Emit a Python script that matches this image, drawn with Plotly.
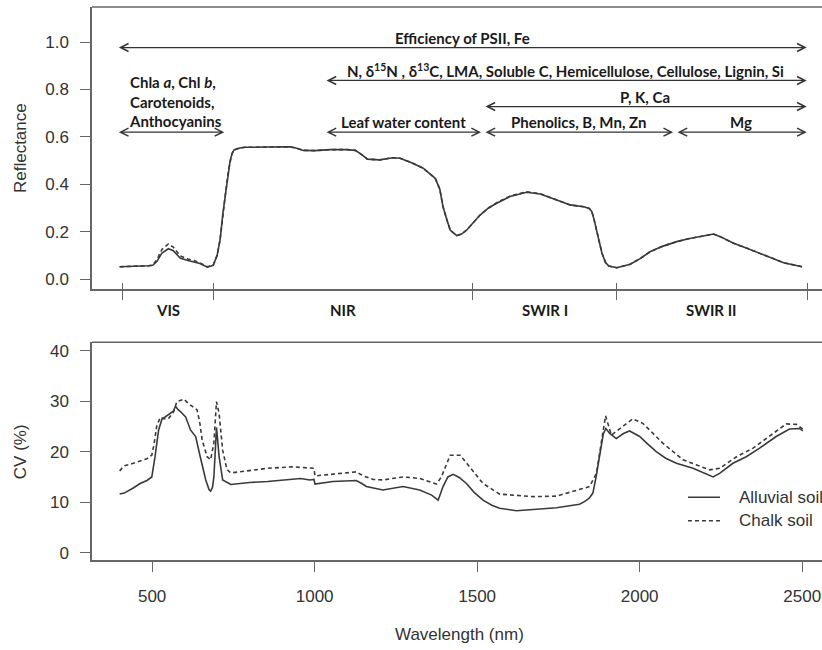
import plotly.graph_objects as go

# ---------------- Reflectance spectra (nm, reflectance) ----------------
refl_wl = [400, 450, 490, 502, 515, 530, 550, 565, 586, 610, 630, 647, 670, 688,
           700, 709, 718, 727, 735, 740, 746, 752, 770, 786, 850, 900, 925, 945,
           965, 1000, 1047, 1100, 1125, 1145, 1162, 1200, 1240, 1263, 1300, 1334,
           1371, 1385, 1395, 1408, 1417, 1437, 1452, 1468, 1490, 1509, 1535, 1560,
           1601, 1652, 1694, 1720, 1745, 1786, 1828, 1845, 1853, 1860, 1868, 1876,
           1884, 1895, 1905, 1930, 1971, 2000, 2032, 2070, 2114, 2150, 2186, 2227,
           2248, 2289, 2330, 2371, 2410, 2443, 2500]
refl_alluvial = [0.052, 0.053, 0.056, 0.058, 0.075, 0.110, 0.128, 0.120, 0.089, 0.078,
                 0.072, 0.066, 0.050, 0.058, 0.100, 0.165, 0.280, 0.376, 0.460, 0.500,
                 0.530, 0.545, 0.553, 0.556, 0.557, 0.557, 0.558, 0.552, 0.543, 0.542,
                 0.546, 0.546, 0.543, 0.525, 0.506, 0.503, 0.512, 0.510, 0.490, 0.468,
                 0.425, 0.380, 0.305, 0.245, 0.207, 0.183, 0.190, 0.207, 0.240, 0.270,
                 0.300, 0.320, 0.348, 0.366, 0.359, 0.347, 0.334, 0.313, 0.305, 0.298,
                 0.284, 0.250, 0.207, 0.155, 0.109, 0.070, 0.055, 0.048, 0.063, 0.085,
                 0.115, 0.138, 0.158, 0.170, 0.179, 0.190, 0.179, 0.151, 0.130, 0.109,
                 0.087, 0.069, 0.052]
refl_chalk = [0.052, 0.053, 0.056, 0.060, 0.082, 0.125, 0.148, 0.135, 0.098, 0.085,
              0.078, 0.068, 0.052, 0.058, 0.100, 0.165, 0.280, 0.376, 0.460, 0.500,
              0.530, 0.545, 0.553, 0.556, 0.557, 0.557, 0.558, 0.552, 0.543, 0.542,
              0.546, 0.546, 0.543, 0.525, 0.506, 0.503, 0.512, 0.510, 0.490, 0.468,
              0.425, 0.380, 0.305, 0.245, 0.207, 0.183, 0.190, 0.207, 0.240, 0.270,
              0.300, 0.322, 0.350, 0.368, 0.360, 0.348, 0.334, 0.313, 0.305, 0.298,
              0.284, 0.250, 0.207, 0.155, 0.109, 0.070, 0.055, 0.048, 0.063, 0.085,
              0.115, 0.138, 0.158, 0.170, 0.179, 0.190, 0.179, 0.151, 0.130, 0.109,
              0.087, 0.069, 0.052]

# ---------------- Coefficient of variation (nm, %) ----------------
cv_alluvial_wl = [400, 414, 442, 463, 484, 499, 509, 520, 530, 551, 565, 572, 580, 588,
                  603, 618, 634, 648, 665, 675, 680, 686, 690, 695, 698, 702, 706, 717,
                  742, 800, 855, 957, 985, 998, 1001, 1056, 1128, 1145, 1159, 1210, 1272,
                  1323, 1360, 1380, 1395, 1410, 1426, 1445, 1467, 1490, 1518, 1545, 1569,
                  1621, 1672, 1744, 1815, 1830, 1845, 1856, 1866, 1877, 1888, 1896, 1908,
                  1928, 1950, 1969, 2000, 2025, 2051, 2080, 2113, 2164, 2200, 2226, 2246,
                  2287, 2328, 2369, 2420, 2461, 2492, 2502]
cv_alluvial = [11.6, 11.8, 12.8, 13.7, 14.3, 15.0, 19.0, 24.3, 26.4, 27.3, 28.0, 29.0,
               28.3, 27.9, 26.9, 24.3, 23.0, 19.0, 14.4, 12.5, 12.2, 13.0, 15.0, 21.0,
               24.8, 22.0, 19.0, 14.4, 13.5, 13.9, 14.1, 14.7, 14.4, 14.5, 13.6, 14.1,
               14.3, 13.7, 13.1, 12.4, 13.1, 12.4, 11.4, 10.4, 13.1, 15.0, 15.5, 14.9,
               13.7, 12.0, 10.4, 9.4, 8.8, 8.3, 8.6, 8.9, 9.6, 10.1, 10.8, 11.8, 15.0,
               19.0, 23.5, 24.6, 23.6, 22.6, 23.6, 24.1, 23.0, 21.5, 20.0, 18.7, 17.7,
               16.7, 15.7, 15.0, 15.7, 17.7, 19.0, 20.7, 23.0, 24.5, 24.6, 24.1]

cv_chalk_wl = [400, 414, 442, 484, 499, 506, 514, 525, 540, 551, 566, 576, 597, 618,
               638, 646, 654, 669, 680, 690, 698, 706, 717, 730, 742, 855, 931, 998,
               1001, 1056, 1128, 1150, 1180, 1210, 1272, 1323, 1375, 1390, 1417, 1448,
               1478, 1518, 1569, 1672, 1744, 1795, 1846, 1867, 1884, 1895, 1913, 1933,
               1979, 2010, 2040, 2071, 2133, 2215, 2246, 2298, 2349, 2410, 2451, 2482,
               2502]
cv_chalk = [16.2, 17.2, 17.7, 18.6, 19.3, 21.5, 25.0, 26.8, 26.5, 26.6, 27.9, 29.9,
            30.4, 29.2, 28.3, 26.0, 22.3, 19.0, 18.4, 21.7, 29.9, 27.6, 20.3, 16.5,
            15.8, 16.7, 17.0, 16.7, 15.2, 15.6, 16.0, 15.2, 14.5, 14.4, 15.0, 14.7,
            13.6, 15.0, 19.3, 19.3, 17.0, 13.7, 11.6, 11.1, 11.2, 12.2, 13.1, 15.7,
            22.3, 27.1, 23.3, 24.3, 26.5, 25.6, 23.7, 21.7, 18.4, 16.4, 16.7, 19.0,
            20.7, 23.6, 25.5, 25.4, 24.5]

# ---------------- Spectral regions ----------------
region_names = ["VIS", "NIR", "SWIR I", "SWIR II"]
region_edges = [410, 690, 1485, 1930, 2515]

# ---------------- Leaf traits linked to wavelength spans ----------------
trait_labels = [
    "Efficiency of PSII, Fe",
    "N, δ<sup>15</sup>N , δ<sup>13</sup>C, LMA, Soluble C, Hemicellulose, Cellulose, Lignin, Si",
    "P, K, Ca",
    "",
    "Leaf water content",
    "Phenolics, B, Mn, Zn",
    "Mg",
]
trait_start = [393, 1032, 1521, 393, 1032, 1521, 2112]
trait_end = [2514, 2514, 2514, 722, 1512, 2103, 2514]
trait_level = [0.977, 0.838, 0.728, 0.620, 0.620, 0.620, 0.620]
pigment_label = "Chla <i>a</i>, Chl <i>b</i>,<br>Carotenoids,<br>Anthocyanins"

refl_ticks = [0.0, 0.2, 0.4, 0.6, 0.8, 1.0]
cv_ticks = [0, 10, 20, 30, 40]
wl_ticks = [500, 1000, 1500, 2000, 2500]
series_names = ["Alluvial soil", "Chalk soil"]
series_dash = ["solid", "4px,3px"]

X_RANGE = [315, 2561]
AXIS_COLOR = "#666666"
LINE_COLOR = "#3a3a3a"
SANS = "Liberation Sans, Arial, sans-serif"
TICK_FONT = dict(family=SANS, size=17, color="#333333")
NOTE_FONT = dict(family="Lato, sans-serif", size=15, color="#1a1a1a")

fig = go.Figure()

# Reflectance panel
for vals, dash in zip((refl_alluvial, refl_chalk), series_dash):
    fig.add_trace(go.Scatter(x=refl_wl, y=vals, mode="lines", showlegend=False,
                             line=dict(color=LINE_COLOR, width=1.6, dash=dash),
                             xaxis="x", yaxis="y"))
# carrier for the inner half of the region ticks
fig.add_trace(go.Scatter(x=[], y=[], showlegend=False, hoverinfo="skip",
                         xaxis="x3", yaxis="y"))

# CV panel
for wl, vals, name, dash in zip((cv_alluvial_wl, cv_chalk_wl), (cv_alluvial, cv_chalk),
                                series_names, series_dash):
    fig.add_trace(go.Scatter(x=wl, y=vals, mode="lines", name=name, showlegend=False,
                             line=dict(color=LINE_COLOR, width=1.6, dash=dash),
                             xaxis="x2", yaxis="y2"))

axis_common = dict(showline=True, linecolor=AXIS_COLOR, linewidth=1.5, showgrid=False,
                   zeroline=False, tickcolor=AXIS_COLOR, tickwidth=1.2, tickfont=TICK_FONT)

fig.update_layout(
    width=822, height=650,
    margin=dict(l=92, r=0, t=7, b=90),
    paper_bgcolor="white", plot_bgcolor="white",
    showlegend=False,
    xaxis=dict(domain=[0, 1], anchor="y", range=X_RANGE, tickmode="array",
               tickvals=region_edges, ticks="outside", ticklen=9, showticklabels=False,
               **{k: v for k, v in axis_common.items() if k != "tickfont"}),
    xaxis3=dict(overlaying="x", anchor="y", side="bottom", range=X_RANGE, tickmode="array",
                tickvals=region_edges, ticks="inside", ticklen=6, tickcolor=AXIS_COLOR,
                tickwidth=1.2, showticklabels=False, showline=False, showgrid=False,
                zeroline=False),
    yaxis=dict(domain=[0.490, 1.0], anchor="x", range=[-0.042, 1.148], tickmode="array",
               tickvals=refl_ticks, ticktext=[f"{v:.1f}" for v in refl_ticks],
               ticks="outside", ticklen=10, ticklabelstandoff=8, **axis_common),
    xaxis2=dict(domain=[0, 1], anchor="y2", range=X_RANGE, tickmode="array",
                tickvals=wl_ticks, ticks="outside", ticklen=10, ticklabelstandoff=10,
                **axis_common),
    yaxis2=dict(domain=[0, 0.3937], anchor="x2", range=[-1.45, 41.66], tickmode="array",
                tickvals=cv_ticks, ticks="outside", ticklen=10, ticklabelstandoff=8,
                **axis_common),
)

# top borders of both panels
for xr, yr in (("x domain", "y domain"), ("x2 domain", "y2 domain")):
    fig.add_shape(type="line", xref=xr, yref=yr, x0=0, x1=1, y0=1, y1=1,
                  line=dict(color=AXIS_COLOR, width=1.5))

annotations = []

# key for the CV panel (sample line + label), placed inside the plot area
legend_rows = [0.1134, 0.0711]
for name, dash, ly in zip(series_names, series_dash, legend_rows):
    fig.add_shape(type="line", xref="paper", yref="paper", x0=0.8164, x1=0.8603,
                  y0=ly, y1=ly, line=dict(color=LINE_COLOR, width=1.6, dash=dash))
    annotations.append(dict(x=0.8836, y=ly, xref="paper", yref="paper", text=name,
                            showarrow=False, xanchor="left", yanchor="middle",
                            font=dict(family=SANS, size=17, color="#333333")))

# double-headed arrows and trait labels
for label, x0, x1, lvl in zip(trait_labels, trait_start, trait_end, trait_level):
    annotations.append(dict(
        x=x1, y=lvl, ax=x0, ay=lvl, xref="x", yref="y", axref="x", ayref="y",
        text="", showarrow=True, arrowside="end+start", arrowhead=5, startarrowhead=5,
        arrowsize=1.3, startarrowsize=1.3, arrowwidth=1.2, arrowcolor="#333333"))
    if label:
        annotations.append(dict(
            x=(x0 + x1) / 2, y=lvl, xref="x", yref="y", text=f"<b>{label}</b>",
            showarrow=False, xanchor="center", yanchor="middle", yshift=10,
            font=NOTE_FONT))

annotations.append(dict(
    x=423, y=0.879, xref="x", yref="y", text=f"<b>{pigment_label}</b>", showarrow=False,
    xanchor="left", yanchor="top", align="left", font=NOTE_FONT))

# region names under the reflectance panel
for name, a, b in zip(region_names, region_edges[:-1], region_edges[1:]):
    annotations.append(dict(
        x=(a + b) / 2, y=0, xref="x", yref="y domain", text=f"<b>{name}</b>",
        showarrow=False, xanchor="center", yanchor="top", yshift=-10, font=NOTE_FONT))

# axis titles
title_font = dict(family=SANS, size=17, color="#333333")
annotations.append(dict(x=-0.0986, y=0.745, xref="paper", yref="paper", text="Reflectance",
                        textangle=-90, showarrow=False, xanchor="center", yanchor="middle",
                        font=title_font))
annotations.append(dict(x=-0.0986, y=0.195, xref="paper", yref="paper", text="CV (%)",
                        textangle=-90, showarrow=False, xanchor="center", yanchor="middle",
                        font=title_font))
annotations.append(dict(x=0.504, y=-0.1356, xref="paper", yref="paper",
                        text="Wavelength (nm)", showarrow=False, xanchor="center",
                        yanchor="middle", font=title_font))

fig.update_layout(annotations=annotations)
fig.write_html("out.html")
